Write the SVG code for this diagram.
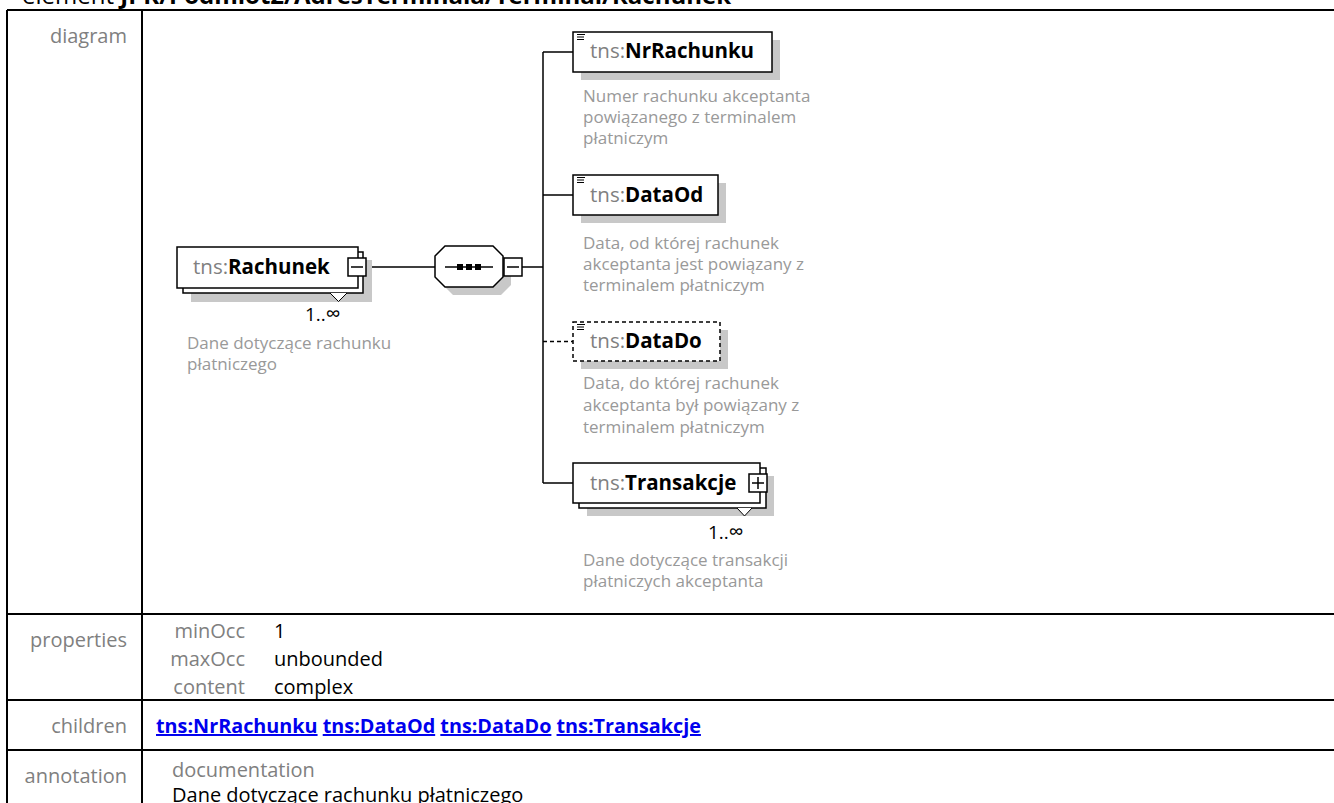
<svg xmlns="http://www.w3.org/2000/svg" width="1334" height="803" viewBox="0 0 1334 803">
<defs>
<style>
text{font-family:"Open Sans","Noto Sans",sans-serif}
.grid{stroke:#000;stroke-width:2;fill:none}
.lbl{font-size:20px;fill:#808080;text-anchor:end}
.val{font-size:20px;fill:#000}
.links{font-size:19.8px;font-weight:bold;fill:#0000ee}
.u{text-decoration:underline}
.box{fill:#fff;stroke:#000;stroke-width:1.5}
.dbox{fill:#fff;stroke:#000;stroke-width:1.5;stroke-dasharray:4 3}
.shd{fill:#c8c8c8}
.pfx{fill:#808080;font-weight:normal}
.nm{font-size:20.5px;font-weight:bold;fill:#000}
.desc{font-size:17px;fill:#999}
.occ{font-size:19px;fill:#000}
.inf{font-size:21px}
.wire{stroke:#000;stroke-width:1.5;fill:none}
.dwire{stroke:#000;stroke-width:1.5;fill:none;stroke-dasharray:4 3}
.ico{stroke:#000;stroke-width:1.2}
.tri{fill:#fff;stroke:#000;stroke-width:1}
</style>
<g id="ico" class="ico"><path d="M0,0.5H8M0,3H7M0,5.5H7"/></g>
</defs>

<g id="title">
<text x="22" y="4" font-size="24" fill="#000">element <tspan font-weight="bold">JPK/Podmiot2/AdresTerminala/Terminal/Rachunek</tspan></text>
</g>

<g id="table">
<path class="grid" d="M7,10H1334M7,10V803M142,10V803M7,614H1334M7,700H1334M7,750H1334"/>
<text class="lbl" x="127" y="43">diagram</text>
<text class="lbl" x="127" y="647">properties</text>
<text class="lbl" x="127" y="733">children</text>
<text class="lbl" x="127" y="783">annotation</text>
<text class="lbl" x="245" y="638">minOcc</text>
<text class="lbl" x="245" y="666">maxOcc</text>
<text class="lbl" x="245" y="694">content</text>
<text class="val" x="274" y="638">1</text>
<text class="val" x="274" y="666">unbounded</text>
<text class="val" x="274" y="694">complex</text>
<text class="links" x="156" y="733"><tspan class="u">tns:NrRachunku</tspan> <tspan class="u">tns:DataOd</tspan> <tspan class="u">tns:DataDo</tspan> <tspan class="u">tns:Transakcje</tspan></text>
<text x="172" y="777" font-size="20" fill="#808080">documentation</text>
<text class="val" x="172" y="802">Dane dotyczące rachunku płatniczego</text>
</g>

<g id="connectors">
<path class="wire" d="M366,267H435M522,267H543M543,52V483M543,52H573M543,195H573M543,483H573"/>
<path class="dwire" d="M543,341.5H573"/>
</g>

<g id="node-Rachunek">
<rect class="shd" x="191" y="260" width="181" height="42"/>
<rect class="box" x="183" y="252" width="180" height="41"/>
<rect class="box" x="177" y="247" width="181" height="41"/>
<polyline class="tri" points="330,293 338.5,301.5 347,293"/>
<rect class="box" x="348" y="258" width="18" height="18"/>
<path class="wire" d="M351,267H363"/>
<text class="nm" x="193" y="274"><tspan class="pfx">tns:</tspan>Rachunek</text>
<text class="occ" x="305" y="321">1..<tspan class="inf">∞</tspan></text>
<text class="desc" x="187" y="349">Dane dotyczące rachunku</text>
<text class="desc" x="187" y="370">płatniczego</text>
</g>

<g id="node-sequence">
<polygon class="shd" points="443,264 453,254 501,254 511,264 511,285 501,295 453,295 443,285"/>
<polygon class="box" points="435,256 445,246 493,246 503,256 503,277 493,287 445,287 435,277"/>
<path class="wire" d="M445,267H493"/>
<rect x="457" y="264" width="6" height="6" fill="#000"/>
<rect x="466" y="264" width="6" height="6" fill="#000"/>
<rect x="475" y="264" width="6" height="6" fill="#000"/>
<rect class="box" x="504" y="258" width="18" height="18"/>
<path class="wire" d="M507,267H519"/>
</g>

<g id="node-NrRachunku">
<rect class="shd" x="581" y="40" width="199" height="40"/>
<rect class="box" x="573" y="32" width="199" height="40"/>
<use href="#ico" x="577" y="34"/>
<text class="nm" x="590" y="58"><tspan class="pfx">tns:</tspan>NrRachunku</text>
<text class="desc" x="583" y="102">Numer rachunku akceptanta</text>
<text class="desc" x="583" y="123">powiązanego z terminalem</text>
<text class="desc" x="583" y="144">płatniczym</text>
</g>

<g id="node-DataOd">
<rect class="shd" x="581" y="183" width="145" height="40"/>
<rect class="box" x="573" y="175" width="145" height="40"/>
<use href="#ico" x="577" y="177"/>
<text class="nm" x="590" y="202"><tspan class="pfx">tns:</tspan>DataOd</text>
<text class="desc" x="583" y="249">Data, od której rachunek</text>
<text class="desc" x="583" y="270">akceptanta jest powiązany z</text>
<text class="desc" x="583" y="291">terminalem płatniczym</text>
</g>

<g id="node-DataDo">
<rect class="shd" x="581" y="330" width="147" height="39"/>
<rect class="dbox" x="573" y="322" width="147" height="39"/>
<use href="#ico" x="577" y="324"/>
<text class="nm" x="590" y="348"><tspan class="pfx">tns:</tspan>DataDo</text>
<text class="desc" x="583" y="389">Data, do której rachunek</text>
<text class="desc" x="583" y="411">akceptanta był powiązany z</text>
<text class="desc" x="583" y="433">terminalem płatniczym</text>
</g>

<g id="node-Transakcje">
<rect class="shd" x="587" y="476" width="187" height="40"/>
<rect class="box" x="579" y="468" width="187" height="40"/>
<rect class="box" x="573" y="463" width="187" height="40"/>
<polyline class="tri" points="737,508 744.5,516 752,508"/>
<rect class="box" x="749" y="474" width="18" height="18"/>
<path class="wire" d="M752,483H764M758,477V489"/>
<text class="nm" x="590" y="490"><tspan class="pfx">tns:</tspan>Transakcje</text>
<text class="occ" x="708" y="539">1..<tspan class="inf">∞</tspan></text>
<text class="desc" x="583" y="566">Dane dotyczące transakcji</text>
<text class="desc" x="583" y="587">płatniczych akceptanta</text>
</g>
</svg>
